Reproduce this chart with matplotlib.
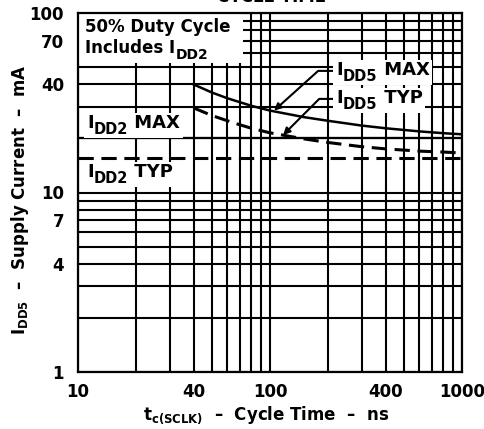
import matplotlib
matplotlib.use("Agg")
import matplotlib.pyplot as plt
from matplotlib.patches import Rectangle
from matplotlib.transforms import Bbox

# ---- data ----
t_max = [40, 50, 60, 70, 80, 100, 150, 200, 300, 400, 600, 800, 1000]
idd5_max = [40, 36, 33.5, 31.8, 30.4, 28.6, 26.3, 25.1, 23.6, 22.8, 21.9, 21.4, 21.1]
t_typ = [40, 50, 60, 70, 80, 100, 150, 200, 300, 400, 600, 800, 1000]
idd5_typ = [29.6, 26.8, 25.1, 23.8, 22.8, 21.5, 19.9, 19.0, 18.0, 17.5, 17.0, 16.8, 16.6]
t_idd2 = [10, 1000]
idd2_max = [20, 20]
idd2_typ = [15.5, 15.5]

xticks = [10, 40, 100, 400, 1000]
xticklabels = ["10", "40", "100", "400", "1000"]
yticks = [1, 4, 7, 10, 40, 70, 100]
yticklabels = ["1", "4", "7", "10", "40", "70", "100"]

plt.rcParams['font.family'] = ['DejaVu Sans']
plt.rcParams['font.weight'] = 'bold'
plt.rcParams['mathtext.fontset'] = 'custom'
for k in ['rm', 'it', 'bf', 'sf']:
    plt.rcParams['mathtext.' + k] = 'DejaVu Sans:bold'

W, H = 485, 429
fig = plt.figure(figsize=(W / 100, H / 100), dpi=100)
ax = fig.add_axes([78 / W, 1 - 372 / H, (462 - 78) / W, (372 - 13) / H])
ax.set_xscale('log')
ax.set_yscale('log')
ax.set_xlim(10, 1000)
ax.set_ylim(1, 100)

minor_x = [m * d for d in (10, 100) for m in range(1, 10)]
minor_y = [m * d for d in (1, 10) for m in range(1, 10)]
ax.set_xticks(minor_x, minor=True)
ax.set_yticks(minor_y, minor=True)
ax.set_xticks(xticks)
ax.set_xticklabels(xticklabels)
ax.set_yticks(yticks)
ax.set_yticklabels(yticklabels)
ax.tick_params(which='both', length=0)
ax.tick_params(axis='x', pad=8, labelsize=12)
ax.tick_params(axis='y', pad=10, labelsize=12)
for lab in ax.get_xticklabels(minor=True) + ax.get_yticklabels(minor=True):
    lab.set_visible(False)
ax.grid(which='both', color='black', linewidth=1.5)
ax.set_axisbelow(True)
for s in ax.spines.values():
    s.set_linewidth(1.6)
    s.set_zorder(6)

# curves
ax.plot(t_max, idd5_max, color='black', lw=1.8, zorder=3)
ax.plot(t_typ, idd5_typ, color='black', lw=2.2, dashes=(5, 2.5), zorder=3)
ax.plot(t_idd2, idd2_max, color='black', lw=1.6, zorder=3)
ax.plot(t_idd2, idd2_typ, color='black', lw=2.2, dashes=(5, 2.5), zorder=3)

MAIN, SUB = 13, 10.5


def sub_label(x, y, main, sub, rest, size=MAIN, subsize=SUB):
    """Text with a large, lowered subscript, anchored at baseline (axes coords)."""
    t1 = ax.text(x, y, main, transform=ax.transAxes, fontsize=size,
                 fontweight='bold', va='baseline', ha='left', zorder=5)
    t2 = ax.annotate(sub, xy=(1, 0), xycoords=t1, xytext=(0.3, -3.5),
                     textcoords='offset points', fontsize=subsize,
                     fontweight='bold', va='bottom', ha='left', zorder=5)
    parts = [t1, t2]
    if rest:
        t3 = ax.annotate(rest, xy=(1, 0), xycoords=(t2, t1), fontsize=size,
                         fontweight='bold', va='bottom', ha='left', zorder=5)
        parts.append(t3)
    return parts


groups = []
groups.append(sub_label(0.0234, 0.6797, "I", "DD2", " MAX"))
groups.append(sub_label(0.0234, 0.5432, "I", "DD2", " TYP"))
g_max = sub_label(0.672, 0.8273, "I", "DD5", " MAX")
g_typ = sub_label(0.672, 0.7493, "I", "DD5", " TYP")
groups += [g_max, g_typ]

# top-left note box
ax.add_patch(Rectangle((0, (372 - 63) / 359), (243 - 78) / 384, 1 - (372 - 63) / 359,
                       transform=ax.transAxes, fc='white', ec='none', zorder=4))
ax.text(0.0182, 0.947, "50% Duty Cycle", transform=ax.transAxes, fontsize=12,
        fontweight='bold', va='baseline', ha='left', zorder=5)
sub_label(0.0182, 0.8886, "Includes I", "DD2", "", size=12, subsize=10)

# leader arrows
for grp, tip, angB in ((g_max, (105, 28.6), 42), (g_typ, (117, 20.9), 45)):
    ax.annotate("", xy=tip, xycoords='data', xytext=(0, 0.45), textcoords=grp[0],
                zorder=3.5,
                arrowprops=dict(arrowstyle='-|>', color='black', lw=1.5,
                                mutation_scale=10, shrinkA=0, shrinkB=0,
                                connectionstyle='angle,angleA=0,angleB=%d,rad=0' % angB))

# white backgrounds behind the labels
fig.canvas.draw()
r = fig.canvas.get_renderer()
for grp in groups:
    bb = Bbox.union([t.get_window_extent(r) for t in grp])
    x0, y0 = bb.x0 - 3, bb.y0 - 1
    x1, y1 = bb.x1 + 3, bb.y1 + 1
    (ax0, ay0), (ax1, ay1) = ax.transAxes.inverted().transform([(x0, y0), (x1, y1)])
    ax.add_patch(Rectangle((ax0, ay0), ax1 - ax0, ay1 - ay0, transform=ax.transAxes,
                           fc='white', ec='none', zorder=4))

ax.set_xlabel("t$_{\\rm c(SCLK)}$  \u2013  Cycle Time  \u2013  ns", fontsize=12,
              fontweight='bold')
ax.xaxis.set_label_coords(0.49, (372 - 415) / (372 - 13))
ax.set_ylabel("I$_{\\rm DD5}$  \u2013  Supply Current  \u2013  mA", fontsize=12,
              fontweight='bold')
ax.yaxis.set_label_coords((20 - 78) / (462 - 78), 0.48)
ax.xaxis.label.set_va('center')
ax.yaxis.label.set_va('center')

fig.text(272 / W, 1 - 1.5 / H, "CYCLE TIME", fontsize=12, fontweight='bold',
         ha='center', va='baseline')

fig.savefig("out.png", dpi=100)
